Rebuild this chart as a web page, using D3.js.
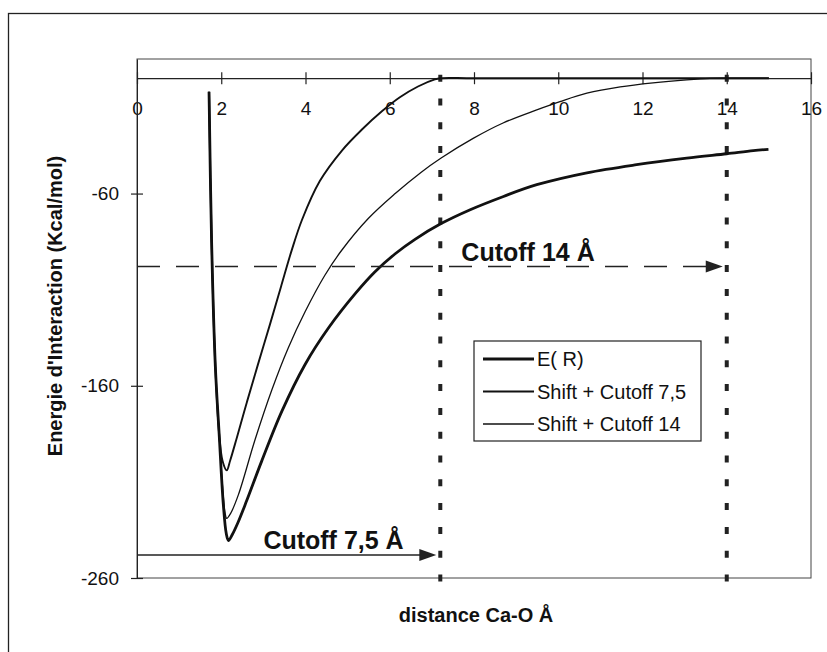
<!DOCTYPE html>
<html lang="fr">
<head>
<meta charset="UTF-8">
<title>Energie d'interaction Ca-O</title>
<style>
  body { margin: 0; background: #fff; }
  svg { display: block; font-family: "Liberation Sans", Arial, sans-serif; }
  .axis path, .axis line { stroke: #222; }
  .axis text { fill: #111; font-size: 19px; }
</style>
</head>
<body>
<svg id="chart" width="827" height="652"></svg>
<script src="https://d3js.org/d3.v7.min.js"></script>
<script>
// values: distance Ca-O (Å) vs energy (kcal/mol)
const erDist = [1.71, 1.77, 1.86, 1.95, 2.05, 2.12, 2.17, 2.26, 2.4, 2.6, 2.96, 3.44, 3.99, 4.54, 5.18, 5.65, 6.13, 6.6, 7.23, 7.91, 8.7, 9.49, 10.68, 11.86, 13.05, 14.0, 14.63, 14.99];
const erEnergy = [-7, -84, -150, -185, -222, -237, -240.5, -237.5, -231, -220, -199.2, -173.2, -148.9, -130.1, -112.1, -100.7, -91.3, -83.8, -75.5, -68.4, -61.5, -55.4, -49.2, -45, -41.6, -39.3, -37.7, -37];

const shift75Dist = [1.71, 1.77, 1.86, 1.95, 2.03, 2.13, 2.21, 2.37, 2.61, 2.87, 3.16, 3.42, 3.67, 3.92, 4.34, 4.87, 5.34, 5.82, 6.24, 6.67, 7.07, 7.2, 8.0, 15.0];
const shift75Energy = [-7, -84, -150, -185, -199, -204, -199, -187, -168.4, -149, -127.8, -108.3, -89.7, -73.5, -53.5, -37.5, -26.7, -17.1, -9.9, -4.3, -0.6, 0, 0, 0];

const shift14Dist = [1.71, 1.77, 1.86, 1.95, 2.03, 2.09, 2.13, 2.22, 2.41, 2.8, 3.2, 3.59, 3.99, 4.46, 4.86, 5.49, 6.13, 6.74, 7.22, 7.98, 8.69, 9.49, 10.04, 10.68, 11.47, 12.25, 13.05, 13.6, 14.0, 15.0];
const shift14Energy = [-7, -84, -150, -185, -212, -226, -229, -226.5, -216.5, -188.2, -162.2, -140.3, -121.5, -102.5, -89.5, -73, -60, -49, -41.5, -31.3, -23.3, -16.5, -12.2, -7.8, -4.5, -2.4, -0.85, -0.1, 0, 0];

const seriesNames = ["E( R)", "Shift + Cutoff 7,5", "Shift + Cutoff 14"];
const xTicks = [0, 2, 4, 6, 8, 10, 12, 14, 16];
const yTicks = [-60, -160, -260];

// cutoff markers (as drawn on the figure)
const cutoffDist = [7.2, 14];
const arrowLabels = ["Cutoff 14 Å", "Cutoff 7,5 Å"];
const arrowEnergy = [-98, -248];
const arrowEnd = [14, 7.2];
const arrowLabelDist = [7.7, 3.0];

const svg = d3.select("#chart");

const x = d3.scaleLinear().domain([0, 16]).range([137, 811]);
const y = d3.scaleLinear().domain([-260, 10]).range([578, 59]);

// outer frame of the figure
svg.append("rect")
    .attr("x", 8.5).attr("y", 13.5)
    .attr("width", 900).attr("height", 700)
    .attr("fill", "none").attr("stroke", "#222").attr("stroke-width", 1.3);

// plot area frame
svg.append("rect")
    .attr("x", x(0)).attr("y", y(10))
    .attr("width", x(16) - x(0)).attr("height", y(-260) - y(10))
    .attr("fill", "none").attr("stroke", "#444").attr("stroke-width", 1);

// x axis sits on E = 0
const gx = svg.append("g")
    .attr("class", "axis")
    .attr("transform", `translate(0,${y(0)})`)
    .call(d3.axisBottom(x).tickValues(xTicks).tickFormat(d => String(d)).tickSize(6).tickSizeOuter(0));
gx.attr("font-family", null).attr("font-size", null);
gx.select(".domain").attr("stroke-width", 1.3);
gx.selectAll(".tick line").attr("y1", -6).attr("y2", 6).attr("stroke-width", 1.2);
gx.selectAll(".tick text").attr("y", 37).attr("dy", null);

const gy = svg.append("g")
    .attr("class", "axis")
    .attr("transform", `translate(${x(0)},0)`)
    .call(d3.axisLeft(y).tickValues(yTicks).tickFormat(d => String(d)).tickSize(6).tickSizeOuter(0));
gy.attr("font-family", null).attr("font-size", null);
gy.selectAll(".tick line").attr("x1", -6).attr("x2", 6).attr("stroke-width", 1.2);
gy.selectAll(".tick text").attr("x", -18);

// axis titles
svg.append("text")
    .attr("x", (x(0) + x(16)) / 2 + 2)
    .attr("y", 622)
    .attr("text-anchor", "middle")
    .attr("font-weight", "bold")
    .attr("font-size", 20)
    .attr("fill", "#111")
    .text("distance Ca-O Å");

svg.append("text")
    .attr("transform", "translate(62,306) rotate(-90)")
    .attr("text-anchor", "middle")
    .attr("font-weight", "bold")
    .attr("font-size", 20)
    .attr("fill", "#111")
    .text("Energie d'Interaction (Kcal/mol)");

// vertical dotted cutoff lines
svg.selectAll(".cutoff")
    .data(cutoffDist)
    .enter()
    .append("line")
    .attr("class", "cutoff")
    .attr("x1", d => x(d)).attr("x2", d => x(d))
    .attr("y1", y(0) - 3.5).attr("y2", y(-260) + 3.5)
    .attr("stroke", "#222")
    .attr("stroke-width", 4)
    .attr("stroke-dasharray", "7,16.8");

// curves
const series = [
    { name: seriesNames[0], dist: erDist, energy: erEnergy, width: 2.8 },
    { name: seriesNames[1], dist: shift75Dist, energy: shift75Energy, width: 1.9 },
    { name: seriesNames[2], dist: shift14Dist, energy: shift14Energy, width: 1.3 }
];

const line = d3.line()
    .x(d => x(d[0]))
    .y(d => y(d[1]))
    .curve(d3.curveCatmullRom.alpha(0.5));

svg.selectAll(".curve")
    .data(series)
    .enter()
    .append("path")
    .attr("class", "curve")
    .attr("d", s => line(d3.zip(s.dist, s.energy)))
    .attr("fill", "none")
    .attr("stroke", "#111")
    .attr("stroke-width", s => s.width)
    .attr("stroke-linejoin", "round");

// cutoff arrows with labels
const arrows = arrowLabels.map((label, i) => ({
    label: label,
    energy: arrowEnergy[i],
    end: arrowEnd[i],
    labelDist: arrowLabelDist[i],
    dashed: i === 0
}));

const ag = svg.selectAll(".arrow")
    .data(arrows)
    .enter()
    .append("g")
    .attr("class", "arrow");

ag.append("line")
    .attr("x1", x(0))
    .attr("x2", d => x(d.end) - 18)
    .attr("y1", d => y(d.energy))
    .attr("y2", d => y(d.energy))
    .attr("stroke", "#222")
    .attr("stroke-width", 1.5)
    .attr("stroke-dasharray", d => d.dashed ? "23,16" : null);

ag.append("path")
    .attr("d", d => {
        const tx = x(d.end) - 4, ty = y(d.energy);
        return `M${tx},${ty}L${tx - 17},${ty - 6}L${tx - 17},${ty + 6}Z`;
    })
    .attr("fill", "#222");

ag.append("text")
    .attr("x", d => x(d.labelDist))
    .attr("y", d => y(d.energy) - 6)
    .attr("font-weight", "bold")
    .attr("font-size", 25)
    .attr("fill", "#111")
    .text(d => d.label);

// legend
const legend = svg.append("g").attr("transform", "translate(474,341)");
legend.append("rect")
    .attr("width", 227).attr("height", 100)
    .attr("fill", "#fff").attr("stroke", "#222").attr("stroke-width", 1.2);

const items = legend.selectAll(".item")
    .data(series)
    .enter()
    .append("g")
    .attr("class", "item")
    .attr("transform", (d, i) => `translate(0,${18 + i * 32.5})`);

items.append("line")
    .attr("x1", 9).attr("x2", 60)
    .attr("stroke", "#111")
    .attr("stroke-width", d => d.width);

items.append("text")
    .attr("x", 63)
    .attr("dy", "0.35em")
    .attr("font-size", 20)
    .attr("fill", "#111")
    .text(d => d.name);
</script>
</body>
</html>
